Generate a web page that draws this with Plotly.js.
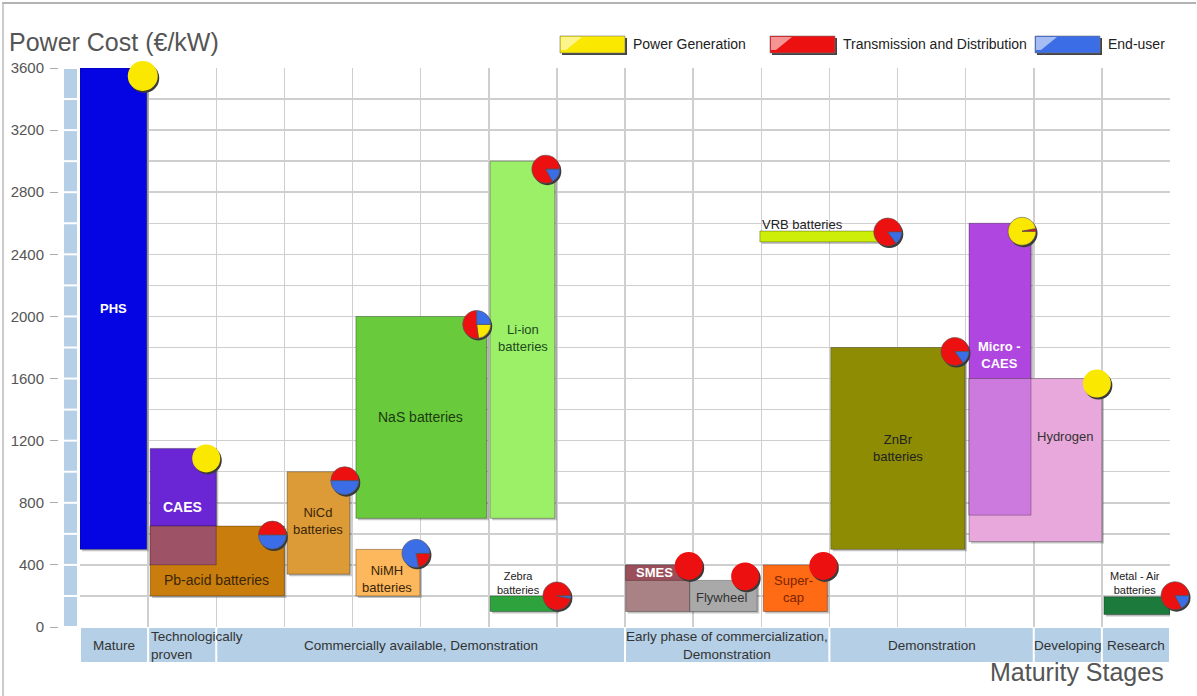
<!DOCTYPE html>
<html><head><meta charset="utf-8">
<script src="https://cdn.plot.ly/plotly-3.0.1.min.js"></script>
<style>html,body{margin:0;padding:0;background:#fff}#chart{width:1197px;height:696px}</style>
</head><body><div id="chart"></div>
<script>
// ---------------- data ----------------
const technologies = ['PHS','CAES','Pb-acid','NiCd','NiMH','NaS','Li-ion','Zebra','SMES','Flywheel','Super-cap','VRB','ZnBr','Micro-CAES','Hydrogen','Metal-Air'];
const colStart = [0.00,1.03,1.03,3.04,4.05,4.05,6.02,6.02,8.01,8.95,10.03,9.98,11.02,13.05,13.05,15.03];
const colEnd   = [0.98,2.00,3.00,3.96,4.99,5.97,6.97,7.00,8.95,9.94,10.97,11.74,12.99,13.96,15.00,16.00];
const costLow  = [500,400,200,340,200,700,700,100,100,100,100,2480,500,720,550,80];
const costHigh = [3600,1150,650,1000,500,2000,3000,200,400,300,400,2550,1800,2600,1600,195];
const shareGeneration   = [1,1,0,0,0,0.23,0,0,0,0,0,0,0,0.97,1,0];
const shareTransmission = [0,0,0.5,0.5,0.22,0.52,0.83,0.97,1,1,1,0.85,0.85,0.03,0,0.83];
const shareEndUser      = [0,0,0.5,0.5,0.78,0.25,0.17,0.03,0,0,0,0.15,0.15,0,0,0.17];
const barLabels = ['PHS','CAES','Pb-acid batteries','NiCd<br>batteries','NiMH<br>batteries','NaS batteries','Li-ion<br>batteries','Zebra<br>batteries','SMES','Flywheel','Super-<br>cap','VRB batteries','ZnBr<br>batteries','Micro -<br>CAES','Hydrogen','Metal - Air<br>batteries'];
const stageNames = ['Mature','Technologically<br>proven','Commercially available, Demonstration','Early phase of commercialization,<br>Demonstration','Demonstration','Developing','Research'];
const stageStart = [0,1,2,8,11,14,15];
const stageEnd   = [1,2,8,11,14,15,16];
const costTicks = [0,400,800,1200,1600,2000,2400,2800,3200,3600];
const legendNames = ['Power Generation','Transmission and Distribution','End-user'];

// ---------------- styles ----------------
const W = 1197, H = 696;
const X0 = 80, X1 = 1170, Y0 = 627, Y1 = 68;
const XR = [0,16], YR = [0,3600];
const pxX = c => X0 + (c - XR[0]) / (XR[1] - XR[0]) * (X1 - X0);
const pxY = v => Y0 - (v - YR[0]) / (YR[1] - YR[0]) * (Y0 - Y1);
const pX = px => px / W;
const pY = py => 1 - py / H;
const FONT = 'Liberation Sans, Arial, sans-serif';
const C_GEN = '#fae800', C_TD = '#ec1010', C_EU = '#3b6de6';
const sliceColors = [C_GEN, C_TD, C_EU];
const barColors = ['#0505e4','#6a26d4','#c97d0c','#dc9b36','#fdb75c','#69cb3c','#9cf068','#2ea23c','#a88284','#a9a9a9','#ff6a14','#cdee08','#8e8c02','#b046e0','#e8a8dc','#1b7a3c'];
const labelColors = ['#fff','#fff','#3a2608','#3a2608','#3a2608','#1d3a10','#1d4a1d','#222','#fff','#333','#7a2400','#222','#222','#fff','#333','#222'];
const labelBold = [true,true,false,false,false,false,false,false,true,false,false,false,false,true,false,false];
const labelSize = [13,14,14,13,13,14,13,11,13,13,13,13,13,13,13,11];
const labelCol = [0.49,1.5,2.0,3.5,4.5,5.0,6.5,6.43,8.43,9.42,10.47,10.61,12.0,13.5,14.46,15.49];
const labelCost = [2050,770,300,680,310,1350,1860,285,348,187,245,2590,1150,1750,1225,285];
const pieOffX = [-4,-10,-12,-5,-4,-10,-9,0,-1,-12,-4,8,-10,-9,-5,5];
const pieOffY = [8,10,9,9,4,8,8,0,1,-4,1,1,4,8,5,-1];
const pieRad  = [15,14,14,14,14,14,14,14,14,14,14,14,14,14,14,14];
const pieDir  = ['counterclockwise','counterclockwise','counterclockwise','counterclockwise','clockwise','clockwise','counterclockwise','counterclockwise','counterclockwise','counterclockwise','counterclockwise','counterclockwise','counterclockwise','clockwise','counterclockwise','counterclockwise'];
const SHADOW_DX = 2 / ((X1 - X0) / (XR[1] - XR[0]));   // 2 px in column units
const SHADOW_DY = 2 / ((Y0 - Y1) / (YR[1] - YR[0]));   // 2 px in cost units

// ---------------- traces ----------------
const traces = [];
// soft drop shadow under the bars
traces.push({
  type: 'bar',
  x: technologies.map((t,i) => (colStart[i] + colEnd[i]) / 2 + SHADOW_DX),
  width: technologies.map((t,i) => colEnd[i] - colStart[i]),
  base: costLow.map(v => v - SHADOW_DY),
  y: technologies.map((t,i) => costHigh[i] - costLow[i]),
  marker: {color: 'rgba(40,40,40,0.28)', line: {width: 0}},
  hoverinfo: 'skip', showlegend: false
});
traces.push({
  type: 'bar',
  x: technologies.map((t,i) => (colStart[i] + colEnd[i]) / 2),
  width: technologies.map((t,i) => colEnd[i] - colStart[i]),
  base: costLow,
  y: technologies.map((t,i) => costHigh[i] - costLow[i]),
  marker: {color: barColors, line: {color: 'rgba(0,0,0,0.3)', width: 1}},
  hoverinfo: 'skip', showlegend: false
});
// overlap regions (CAES / Pb-acid, Micro-CAES / Hydrogen) and SMES header band
function overlap(a, b, color) {
  const xs = Math.max(colStart[a], colStart[b]), xe = Math.min(colEnd[a], colEnd[b]);
  const lo = Math.max(costLow[a], costLow[b]), hi = Math.min(costHigh[a], costHigh[b]);
  return {type:'bar', x:[(xs+xe)/2], width:[xe-xs], base:[lo], y:[hi-lo],
    marker:{color:color, line:{color:'rgba(0,0,0,0.25)', width:1}}, hoverinfo:'skip', showlegend:false};
}
traces.push(overlap(1, 2, '#9d5266'));
traces.push(overlap(13, 14, '#cd7ade'));
const iS = technologies.indexOf('SMES');
traces.push({type:'bar', x:[(colStart[iS]+colEnd[iS])/2], width:[colEnd[iS]-colStart[iS]], base:[costHigh[iS]-100], y:[100],
  marker:{color:'#9b4f5b', line:{color:'rgba(0,0,0,0.25)', width:1}}, hoverinfo:'skip', showlegend:false});

// pies
technologies.forEach((t,i) => {
  const cx = pxX(colEnd[i]) + pieOffX[i];
  const cy = pxY(costHigh[i]) + pieOffY[i];
  const r = pieRad[i];
  const dom = (dx, dy) => ({x:[pX(cx - r + dx), pX(cx + r + dx)], y:[pY(cy + r + dy), pY(cy - r + dy)]});
  traces.push({type:'pie', values:[1], labels:['s'], domain:dom(1.5,2), marker:{colors:['#3a3a3a']},
    textinfo:'none', hoverinfo:'skip', showlegend:false, sort:false});
  const shares = [shareGeneration[i], shareTransmission[i], shareEndUser[i]];
  const nonzero = shares.filter(v => v > 0).length;
  traces.push({type:'pie', values:shares, labels:legendNames, domain:dom(0,0),
    marker:{colors:sliceColors, line:{color:'#555', width:shares.map(v => (v > 0 && nonzero > 1) ? 0.6 : 0)}},
    sort:false, direction:pieDir[i], rotation:90, textinfo:'none', hoverinfo:'skip', showlegend:false});
});

// ---------------- shapes & annotations ----------------
const shapes = [];
const annotations = [];
// frame
shapes.push({type:'line', xref:'paper', yref:'paper', x0:pX(2), x1:pX(1196), y0:pY(3), y1:pY(3), line:{color:'#999', width:1.5}});
shapes.push({type:'line', xref:'paper', yref:'paper', x0:pX(3), x1:pX(3), y0:pY(2), y1:pY(696), line:{color:'#bbb', width:1.5}});
// left decorative strip
for (let v = YR[0]; v < YR[1]; v += 200) {
  shapes.push({type:'rect', xref:'paper', yref:'paper', x0:pX(64), x1:pX(77), y0:pY(pxY(v) - 1), y1:pY(pxY(v+200) + 1),
    fillcolor:'#b4cfe6', line:{width:0}, layer:'below'});
}
// maturity stage band
stageNames.forEach((s,i) => {
  const a = pxX(stageStart[i]) + 1, b = pxX(stageEnd[i]) - 1;
  shapes.push({type:'rect', xref:'paper', yref:'paper', x0:pX(a), x1:pX(b), y0:pY(662), y1:pY(628),
    fillcolor:'#b4cfe6', line:{width:0}});
  const left = i === 1;
  annotations.push({xref:'paper', yref:'paper', x:pX(left ? a : (a+b)/2), y:pY(645), text:s, showarrow:false,
    xanchor:left ? 'left' : 'center', yanchor:'middle', align:left ? 'left' : 'center',
    font:{family:FONT, size:13.5, color:'#333'}});
});
// legend
const legendX = [560, 770, 1035];
legendNames.forEach((n,i) => {
  const x = legendX[i];
  shapes.push({type:'rect', xref:'paper', yref:'paper', x0:pX(x+2), x1:pX(x+67), y0:pY(55), y1:pY(38), fillcolor:'#444', line:{width:0}});
  shapes.push({type:'rect', xref:'paper', yref:'paper', x0:pX(x), x1:pX(x+65), y0:pY(53), y1:pY(36), fillcolor:sliceColors[i], line:{color:'#777', width:0.6}});
  shapes.push({type:'path', xref:'paper', yref:'paper',
    path:`M ${pX(x+1)} ${pY(37)} L ${pX(x+22)} ${pY(37)} L ${pX(x+6)} ${pY(50)} L ${pX(x+1)} ${pY(50)} Z`,
    fillcolor:'rgba(255,255,255,0.55)', line:{width:0}});
  annotations.push({xref:'paper', yref:'paper', x:pX(x+71), y:pY(44), text:n, showarrow:false,
    xanchor:'left', yanchor:'middle', font:{family:FONT, size:14, color:'#222'}});
});
// titles
annotations.push({xref:'paper', yref:'paper', x:pX(7), y:pY(42), text:'Power Cost (€/kW)', showarrow:false,
  xanchor:'left', yanchor:'middle', font:{family:FONT, size:25, color:'#555'}});
annotations.push({xref:'paper', yref:'paper', x:pX(1166), y:pY(672), text:'Maturity Stages', showarrow:false,
  xanchor:'right', yanchor:'middle', font:{family:FONT, size:25, color:'#555'}});
// bar labels
technologies.forEach((t,i) => {
  const txt = labelBold[i] ? '<b>' + barLabels[i].replace('<br>', '</b><br><b>') + '</b>' : barLabels[i];
  annotations.push({xref:'x', yref:'y', x:labelCol[i], y:labelCost[i], text:txt, showarrow:false,
    xanchor:'center', yanchor:'middle', align:'center',
    font:{family:FONT, size:labelSize[i], color:labelColors[i]}});
});

const layout = {
  width: W, height: H,
  margin: {l:0, r:0, t:0, b:0, pad:0},
  paper_bgcolor:'#fff', plot_bgcolor:'#fff',
  showlegend:false, barmode:'overlay',
  xaxis: {domain:[pX(X0), pX(X1)], range:XR, tickvals:[...Array(17).keys()], showticklabels:false, ticks:'',
    showgrid:true, gridcolor:'#cfcfcf', gridwidth:1.5, zeroline:false, showline:false, fixedrange:true, automargin:false},
  yaxis: {domain:[pY(Y0), pY(Y1)], range:YR, anchor:'free', position:pX(58), tickvals:costTicks,
    ticks:'outside', ticklen:8, tickcolor:'#aaa', tickwidth:1, ticklabelstandoff:3,
    tickfont:{family:FONT, size:15, color:'#555'},
    showgrid:true, gridcolor:'#cfcfcf', gridwidth:1.5,
    minor:{dtick:200, showgrid:true, gridcolor:'#cfcfcf', gridwidth:1.5, ticks:''},
    zeroline:false, showline:false, fixedrange:true, automargin:false},
  shapes: shapes, annotations: annotations
};
Plotly.newPlot('chart', traces, layout, {staticPlot:true, displayModeBar:false});
</script>
</body></html>
